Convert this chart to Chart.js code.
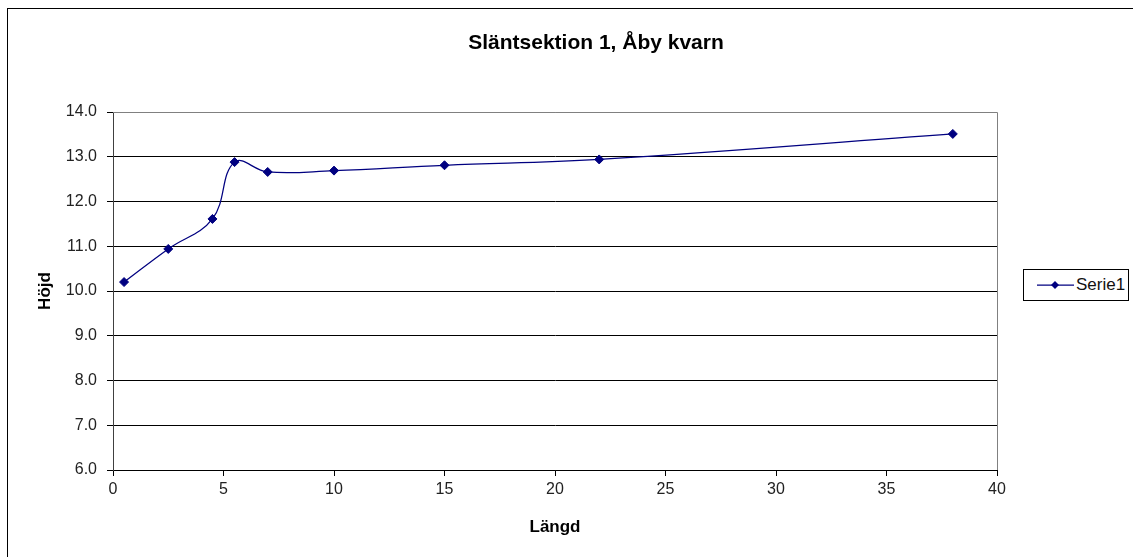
<!DOCTYPE html>
<html lang="sv">
<head>
<meta charset="utf-8">
<title>Släntsektion 1, Åby kvarn</title>
<script src="https://cdn.jsdelivr.net/npm/chart.js@4"></script>
<style>
  html, body { margin: 0; padding: 0; background: #fff; }
  #wrap { position: relative; width: 1133px; height: 557px; overflow: hidden; font-family: "Liberation Sans", Arial, sans-serif; }
  #frame { position: absolute; left: 7px; top: 8px; width: 1200px; height: 600px; border-left: 1px solid #000; border-top: 1px solid #000; }
  #chart { position: absolute; left: 0; top: 0; }
  #title { position: absolute; left: 596px; top: 30px; transform: translateX(-50%); font-weight: bold; font-size: 21px; line-height: 24px; color: #000; white-space: nowrap; }
  #legend { position: absolute; left: 1023px; top: 269px; width: 106px; height: 32px; box-sizing: border-box; border: 1px solid #000; background: #fff; display: flex; align-items: center; font-size: 17px; color: #111; }
  #legend svg { margin-left: 13px; margin-right: 2px; }
</style>
</head>
<body>
<div id="wrap">
  <div id="frame"></div>
  <canvas id="chart" width="1133" height="557"></canvas>
  <div id="title">Släntsektion 1, Åby kvarn</div>
  <div id="legend"></div>
</div>
<script>
// ---- data ----
const LENGTHS = [0.5, 2.5, 4.5, 5.5, 7, 10, 15, 22, 38];           // Längd
const HEIGHTS = [10.2, 10.94, 11.61, 12.88, 12.66, 12.69, 12.81, 12.94, 13.51]; // Höjd
const SERIES_LABEL = 'Serie1';
const X_TITLE = 'Längd';
const Y_TITLE = 'Höjd';

const NAVY  = '#000080';
const GRID  = '#000000';
const FRAME = '#808080';
const FONT  = '"Liberation Sans", Arial, sans-serif';

// plot box edges, matching the reference picture
const AREA_LEFT = 113;
const AREA_TOP = 112;
const AREA_RIGHT_PAD = 136;
const X_AXIS_HEIGHT = 87;

// gray frame on top & right of the plot area (Excel look)
const plotFrame = {
  id: 'plotFrame',
  afterDatasetsDraw(chart) {
    const { ctx, chartArea: a } = chart;
    ctx.save();
    ctx.strokeStyle = FRAME;
    ctx.lineWidth = 1;
    ctx.beginPath();
    ctx.moveTo(a.left, Math.round(a.top) + 0.5);
    ctx.lineTo(Math.round(a.right) + 0.5, Math.round(a.top) + 0.5);
    ctx.lineTo(Math.round(a.right) + 0.5, a.bottom);
    ctx.stroke();
    ctx.restore();
  },
};

const points = LENGTHS.map((x, i) => ({ x, y: HEIGHTS[i] }));

new Chart(document.getElementById('chart'), {
  type: 'scatter',
  data: {
    datasets: [{
      label:           SERIES_LABEL,
      data:            points,
      showLine:        true,
      borderColor:     NAVY,
      borderWidth:     1.25,
      tension:         0.4,
      pointStyle:      'rectRot',
      pointRadius:     4.5,
      pointBackgroundColor: NAVY,
      pointBorderColor: NAVY,
      pointBorderWidth: 1,
    }],
  },
  plugins: [plotFrame],
  options: {
    responsive: false,
    animation:  false,
    layout: { padding: { left: 0, top: AREA_TOP, right: AREA_RIGHT_PAD, bottom: 0 } },
    plugins: {
      legend:  { display: false },
      tooltip: { enabled: false },
      title:   { display: false },
    },
    scales: {
      x: {
        type: 'linear',
        min: 0,
        max: 40,
        afterFit: s => { s.height = X_AXIS_HEIGHT; },
        ticks: { stepSize: 5, color: '#222', padding: 4, font: { family: FONT, size: 16 } },
        grid:  { drawOnChartArea: false, color: GRID, tickLength: 6 },
        border: { display: true, color: GRID, width: 1 },
        title: { display: true, text: X_TITLE, color: '#000', padding: { top: 0, bottom: 19 },
                 font: { family: FONT, size: 17, weight: 'bold' } },
      },
      y: {
        min: 6,
        max: 14,
        afterFit: s => { s.width = AREA_LEFT; },
        ticks: { stepSize: 1, color: '#222', padding: 10, font: { family: FONT, size: 16 },
                 callback: v => v.toFixed(1) },
        grid:  { color: c => (c.tick && c.tick.value === 14 ? FRAME : GRID), tickLength: 6,
                 tickColor: GRID },
        border: { display: true, color: '#404040', width: 1 },
        title: { display: true, text: Y_TITLE, color: '#000', padding: { top: 35, bottom: 0 },
                 font: { family: FONT, size: 17, weight: 'bold' } },
      },
    },
  },
});

// legend box: line with diamond marker + series name
document.getElementById('legend').innerHTML =
  '<svg width="37" height="10" viewBox="0 0 37 10">' +
  '<line x1="0" y1="5" x2="37" y2="5" stroke="' + NAVY + '" stroke-width="1.25"/>' +
  '<path d="M18 1 L22 5 L18 9 L14 5 Z" fill="' + NAVY + '"/></svg>' +
  '<span>' + SERIES_LABEL + '</span>';
</script>
</body>
</html>
